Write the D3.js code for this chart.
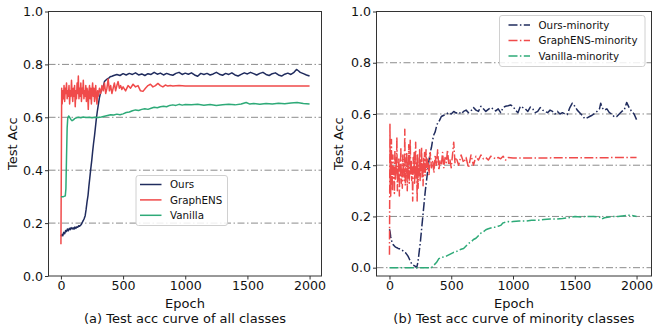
<!DOCTYPE html>
<html>
<head>
<meta charset="utf-8">
<script src="https://cdn.jsdelivr.net/npm/d3@7"></script>
<style>
  body { margin: 0; background: #fff; }
  svg { display: block; font-family: "DejaVu Sans", sans-serif; }
  .tick text { font-size: 12.6px; fill: #111; }
  .tick line { stroke: #333; }
  .axis-label { font-size: 13px; fill: #111; }
  .legend-label { font-size: 10.3px; fill: #111; }
</style>
</head>
<body>
<svg id="chart" width="653" height="328"></svg>
<script>
// ============== Data ==============
const epochTicks = [0, 500, 1000, 1500, 2000];
const accTicks = [0, 0.2, 0.4, 0.6, 0.8, 1.0];

const seriesNamesAll = ['Ours', 'GraphENS', 'Vanilla'];
const seriesNamesMinority = ['Ours-minority', 'GraphENS-minority', 'Vanilla-minority'];

// (a) all classes: [epoch, test acc]
const oursAll = [[0,0.150],[8,0.157],[15,0.152],[22,0.165],[30,0.160],[38,0.172],[45,0.168],[52,0.178],[60,0.171],[68,0.180],[75,0.175],[82,0.183],[90,0.178],[98,0.182],[105,0.177],[112,0.185],[120,0.180],[128,0.186],[135,0.184],[142,0.190],[150,0.188],[158,0.192],[165,0.196],[172,0.203],[180,0.210],[188,0.218],[195,0.228],[202,0.250],[210,0.280],[218,0.305],[225,0.340],[232,0.370],[240,0.405],[248,0.437],[255,0.470],[262,0.500],[270,0.530],[277,0.560],[285,0.595],[292,0.620],[300,0.645],[310,0.675],[320,0.695],[330,0.708],[342,0.718],[350,0.735],[360,0.740],[372,0.745],[385,0.748],[396,0.753],[410,0.755],[425,0.758],[450,0.762],[475,0.758],[500,0.765],[525,0.760],[550,0.766],[575,0.762],[600,0.768],[625,0.760],[650,0.764],[675,0.758],[700,0.765],[725,0.762],[750,0.770],[775,0.763],[800,0.767],[825,0.760],[850,0.766],[875,0.762],[900,0.759],[925,0.766],[950,0.770],[975,0.762],[1000,0.767],[1025,0.763],[1050,0.768],[1075,0.760],[1100,0.755],[1125,0.766],[1150,0.762],[1175,0.766],[1200,0.760],[1225,0.764],[1250,0.770],[1275,0.763],[1300,0.759],[1325,0.766],[1350,0.762],[1375,0.768],[1400,0.760],[1425,0.756],[1450,0.762],[1475,0.768],[1500,0.764],[1525,0.770],[1550,0.765],[1575,0.760],[1600,0.766],[1625,0.770],[1650,0.762],[1675,0.758],[1700,0.765],[1725,0.768],[1750,0.760],[1775,0.756],[1800,0.763],[1825,0.767],[1850,0.762],[1875,0.770],[1895,0.781],[1910,0.776],[1925,0.770],[1950,0.765],[1975,0.760],[2000,0.756]];

const graphensAll = [[0,0.12],[3,0.40],[6,0.71],[10,0.65],[15,0.70],[20,0.67],[25,0.72],[30,0.66],[35,0.71],[40,0.69],[45,0.73],[50,0.67],[55,0.70],[60,0.68],[65,0.72],[70,0.65],[75,0.70],[80,0.68],[85,0.74],[90,0.69],[95,0.66],[100,0.71],[105,0.68],[110,0.72],[115,0.64],[120,0.70],[125,0.67],[130,0.73],[135,0.69],[140,0.756],[145,0.67],[150,0.71],[155,0.68],[160,0.73],[165,0.66],[170,0.71],[175,0.69],[180,0.74],[185,0.67],[190,0.70],[195,0.68],[200,0.72],[205,0.66],[210,0.71],[215,0.69],[220,0.63],[225,0.70],[230,0.72],[235,0.67],[240,0.71],[245,0.65],[250,0.70],[255,0.73],[260,0.68],[265,0.71],[270,0.66],[275,0.70],[280,0.72],[285,0.67],[290,0.65],[295,0.70],[300,0.68],[310,0.71],[320,0.69],[330,0.72],[340,0.70],[350,0.73],[360,0.69],[370,0.71],[380,0.745],[390,0.70],[400,0.72],[410,0.69],[420,0.71],[430,0.73],[440,0.70],[450,0.72],[460,0.735],[470,0.71],[480,0.72],[490,0.705],[500,0.715],[520,0.70],[540,0.72],[560,0.71],[580,0.725],[600,0.715],[620,0.72],[640,0.70],[660,0.698],[680,0.71],[700,0.72],[720,0.725],[740,0.715],[760,0.72],[780,0.728],[800,0.72],[820,0.715],[840,0.722],[860,0.718],[880,0.72],[900,0.718],[950,0.72],[1000,0.718],[1100,0.718],[2000,0.718]];

const vanillaAll = [[0,0.300],[20,0.300],[35,0.303],[40,0.330],[45,0.450],[50,0.560],[55,0.598],[62,0.605],[70,0.600],[80,0.592],[90,0.587],[100,0.590],[110,0.595],[125,0.598],[140,0.600],[160,0.598],[180,0.601],[200,0.599],[225,0.600],[250,0.598],[275,0.600],[300,0.599],[325,0.601],[350,0.604],[375,0.607],[400,0.610],[425,0.609],[450,0.612],[475,0.610],[500,0.613],[525,0.618],[550,0.620],[575,0.625],[600,0.628],[625,0.626],[650,0.630],[675,0.632],[700,0.630],[725,0.634],[750,0.638],[775,0.636],[800,0.640],[825,0.642],[850,0.640],[875,0.645],[900,0.647],[925,0.645],[950,0.649],[975,0.646],[1000,0.648],[1050,0.647],[1100,0.649],[1150,0.646],[1200,0.648],[1250,0.645],[1300,0.647],[1350,0.649],[1400,0.647],[1450,0.650],[1490,0.656],[1520,0.650],[1550,0.652],[1600,0.649],[1650,0.652],[1700,0.650],[1750,0.653],[1800,0.651],[1850,0.654],[1900,0.656],[1950,0.652],[2000,0.650]];

// (b) minority classes: [epoch, test acc]
const oursMinority = [[0,0.150],[5,0.140],[10,0.120],[20,0.100],[30,0.090],[40,0.085],[50,0.080],[60,0.078],[70,0.075],[80,0.074],[90,0.072],[100,0.070],[110,0.065],[120,0.060],[130,0.058],[140,0.052],[150,0.045],[160,0.035],[170,0.025],[180,0.015],[190,0.010],[200,0.008],[210,0.005],[220,0.000],[230,0.020],[240,0.060],[250,0.100],[260,0.150],[270,0.200],[280,0.250],[290,0.300],[300,0.340],[310,0.380],[320,0.420],[330,0.450],[340,0.470],[350,0.500],[360,0.520],[370,0.530],[380,0.550],[390,0.565],[400,0.570],[410,0.580],[420,0.590],[440,0.595],[460,0.600],[480,0.605],[500,0.600],[520,0.610],[540,0.603],[560,0.608],[580,0.600],[600,0.610],[620,0.615],[640,0.605],[660,0.612],[680,0.625],[700,0.615],[720,0.610],[740,0.630],[760,0.620],[780,0.610],[800,0.618],[820,0.625],[840,0.620],[860,0.612],[880,0.620],[900,0.605],[920,0.625],[940,0.630],[960,0.632],[980,0.635],[1000,0.630],[1020,0.615],[1040,0.605],[1060,0.630],[1080,0.625],[1100,0.620],[1120,0.610],[1140,0.627],[1160,0.620],[1180,0.605],[1200,0.610],[1220,0.625],[1240,0.615],[1260,0.610],[1280,0.605],[1300,0.615],[1320,0.610],[1340,0.600],[1360,0.610],[1380,0.600],[1400,0.605],[1420,0.600],[1440,0.598],[1460,0.625],[1480,0.642],[1500,0.630],[1520,0.615],[1540,0.605],[1560,0.595],[1580,0.582],[1600,0.585],[1620,0.590],[1640,0.595],[1660,0.602],[1680,0.610],[1700,0.620],[1710,0.642],[1720,0.625],[1740,0.615],[1760,0.620],[1780,0.605],[1800,0.600],[1820,0.588],[1840,0.590],[1860,0.600],[1880,0.610],[1900,0.615],[1920,0.645],[1940,0.625],[1960,0.610],[1980,0.600],[2000,0.578]];

const graphensMinority = [[0,0.05],[2,0.30],[4,0.56],[6,0.32],[8,0.45],[10,0.28],[12,0.42],[14,0.36],[16,0.50],[18,0.33],[20,0.40],[24,0.30],[28,0.44],[32,0.35],[36,0.38],[40,0.29],[44,0.46],[48,0.34],[52,0.41],[56,0.37],[60,0.51],[64,0.30],[68,0.39],[72,0.35],[76,0.43],[80,0.28],[84,0.40],[88,0.36],[92,0.47],[96,0.33],[100,0.38],[104,0.31],[108,0.44],[112,0.36],[116,0.41],[120,0.34],[124,0.54],[128,0.32],[132,0.39],[136,0.37],[140,0.45],[144,0.30],[148,0.41],[152,0.35],[156,0.48],[160,0.33],[164,0.40],[168,0.50],[172,0.36],[176,0.42],[180,0.34],[184,0.39],[188,0.26],[192,0.43],[196,0.37],[200,0.45],[204,0.33],[208,0.40],[212,0.49],[216,0.35],[220,0.41],[224,0.26],[228,0.44],[232,0.31],[236,0.40],[240,0.36],[244,0.46],[248,0.34],[252,0.42],[256,0.38],[260,0.47],[264,0.35],[268,0.41],[272,0.32],[276,0.43],[280,0.37],[284,0.45],[288,0.36],[292,0.40],[296,0.46],[300,0.38],[310,0.43],[320,0.36],[330,0.45],[340,0.39],[350,0.42],[360,0.37],[370,0.44],[380,0.40],[390,0.46],[400,0.38],[410,0.42],[420,0.40],[430,0.45],[440,0.39],[450,0.43],[460,0.41],[470,0.46],[480,0.40],[490,0.42],[500,0.39],[510,0.44],[520,0.49],[530,0.41],[540,0.43],[560,0.40],[580,0.44],[600,0.41],[620,0.43],[640,0.39],[660,0.44],[680,0.40],[700,0.435],[720,0.42],[740,0.44],[760,0.425],[780,0.43],[800,0.42],[820,0.435],[840,0.43],[860,0.425],[880,0.43],[900,0.425],[920,0.435],[940,0.42],[960,0.43],[1000,0.428],[2000,0.43]];

const vanillaMinority = [[0,0],[100,0],[200,0],[300,0],[340,0],[360,0.010],[380,0.020],[400,0.035],[420,0.040],[440,0.042],[460,0.045],[480,0.050],[500,0.055],[520,0.060],[540,0.062],[560,0.068],[580,0.072],[600,0.075],[620,0.085],[640,0.095],[660,0.100],[680,0.110],[700,0.115],[720,0.125],[740,0.135],[760,0.140],[780,0.148],[800,0.152],[820,0.155],[840,0.158],[860,0.158],[880,0.162],[900,0.165],[920,0.175],[940,0.178],[960,0.180],[980,0.178],[1000,0.180],[1050,0.182],[1100,0.182],[1150,0.185],[1200,0.185],[1250,0.188],[1300,0.190],[1350,0.190],[1400,0.192],[1450,0.195],[1500,0.200],[1550,0.198],[1600,0.200],[1650,0.200],[1700,0.198],[1720,0.190],[1740,0.195],[1800,0.200],[1850,0.200],[1900,0.203],[1950,0.205],[2000,0.200]];

const colors = ['#202c5e', '#f04a4a', '#2eaa78'];

const svg = d3.select('#chart');

// ============== Panel ==============
function drawPanel(p) {
  const x = d3.scaleLinear().domain(p.xDomain).range([p.left, p.right]);
  const y = d3.scaleLinear().domain(p.yDomain).range([p.bottom, p.top]);
  const g = svg.append('g');

  // grid
  g.selectAll('.grid')
    .data(p.gridTicks)
    .enter()
    .append('line')
      .attr('class', 'grid')
      .attr('x1', p.left)
      .attr('x2', p.right)
      .attr('y1', d => y(d))
      .attr('y2', d => y(d))
      .attr('stroke', '#8c8c8c')
      .attr('stroke-width', 1)
      .attr('stroke-dasharray', '7,2.5,1.5,2.5');

  // lines
  const line = d3.line()
    .x(d => x(d[0]))
    .y(d => y(d[1]));

  p.series.forEach((s, i) => {
    g.append('path')
      .datum(s)
      .attr('d', line)
      .attr('fill', 'none')
      .attr('stroke', colors[i])
      .attr('stroke-width', 1.5)
      .attr('stroke-linejoin', 'round')
      .attr('stroke-dasharray', p.dash);
  });

  // axes
  const xAxis = g.append('g')
    .attr('transform', `translate(0,${p.bottom})`)
    .call(d3.axisBottom(x).tickValues(epochTicks).tickSize(3.5).tickPadding(2).tickFormat(d3.format('d')));
  const yAxis = g.append('g')
    .attr('transform', `translate(${p.left},0)`)
    .call(d3.axisLeft(y).tickValues(accTicks).tickSize(3.5).tickPadding(2).tickFormat(d3.format('.1f')));
  [xAxis, yAxis].forEach(a => {
    a.select('.domain').remove();
    a.attr('font-family', null).attr('font-size', null);
  });

  // spines
  g.append('rect')
    .attr('x', p.left)
    .attr('y', p.top)
    .attr('width', p.right - p.left)
    .attr('height', p.bottom - p.top)
    .attr('fill', 'none')
    .attr('stroke', '#333')
    .attr('stroke-width', 1);

  // labels
  g.append('text')
    .attr('class', 'axis-label')
    .attr('transform', `translate(${p.yLabelX},${(p.top + p.bottom) / 2}) rotate(-90)`)
    .attr('text-anchor', 'middle')
    .text('Test Acc');

  const cx = (p.left + p.right) / 2;
  g.append('text')
    .attr('class', 'axis-label')
    .attr('x', cx)
    .attr('y', 307.5)
    .attr('text-anchor', 'middle')
    .text('Epoch');

  g.append('text')
    .attr('class', 'axis-label')
    .attr('x', cx)
    .attr('y', 322.5)
    .attr('text-anchor', 'middle')
    .text(p.caption);

  // legend
  const lg = p.legend;
  g.append('rect')
    .attr('x', lg.x)
    .attr('y', lg.y)
    .attr('width', lg.w)
    .attr('height', lg.h)
    .attr('rx', 2.5)
    .attr('fill', '#fff')
    .attr('fill-opacity', 0.85)
    .attr('stroke', '#d0d0d0')
    .attr('stroke-width', 1);

  const items = g.selectAll('.legend-item')
    .data(p.names)
    .enter()
    .append('g')
      .attr('class', 'legend-item')
      .attr('transform', (d, i) => `translate(${lg.x},${lg.y + lg.first + i * lg.step})`);

  items.append('line')
    .attr('x1', lg.lineX)
    .attr('x2', lg.lineX + 21.5)
    .attr('stroke', (d, i) => colors[i])
    .attr('stroke-width', 1.5)
    .attr('stroke-dasharray', p.dash);

  items.append('text')
    .attr('class', 'legend-label')
    .attr('x', lg.lineX + 30)
    .attr('dy', '0.36em')
    .text(d => d);
}

drawPanel({
  left: 48.5, right: 321.5, top: 11.5, bottom: 276,
  xDomain: [-100, 2096], yDomain: [0, 1],
  gridTicks: [0.2, 0.4, 0.6, 0.8],
  series: [oursAll, graphensAll, vanillaAll],
  names: seriesNamesAll,
  dash: null,
  yLabelX: 16.7,
  caption: '(a) Test acc curve of all classes',
  legend: {x: 136, y: 175.5, w: 91.5, h: 50, first: 9, step: 15.4, lineX: 4}
});

drawPanel({
  left: 376.5, right: 651.5, top: 11.5, bottom: 276,
  xDomain: [-105, 2121], yDomain: [-0.0325, 1],
  gridTicks: [0, 0.2, 0.4, 0.6, 0.8],
  series: [oursMinority, graphensMinority, vanillaMinority],
  names: seriesNamesMinority,
  dash: '9,2.4,1.5,2.4',
  yLabelX: 343.3,
  caption: '(b) Test acc curve of minority classes',
  legend: {x: 499.5, y: 15.5, w: 145.5, h: 51, first: 9.5, step: 15.5, lineX: 9}
});
</script>
</body>
</html>
